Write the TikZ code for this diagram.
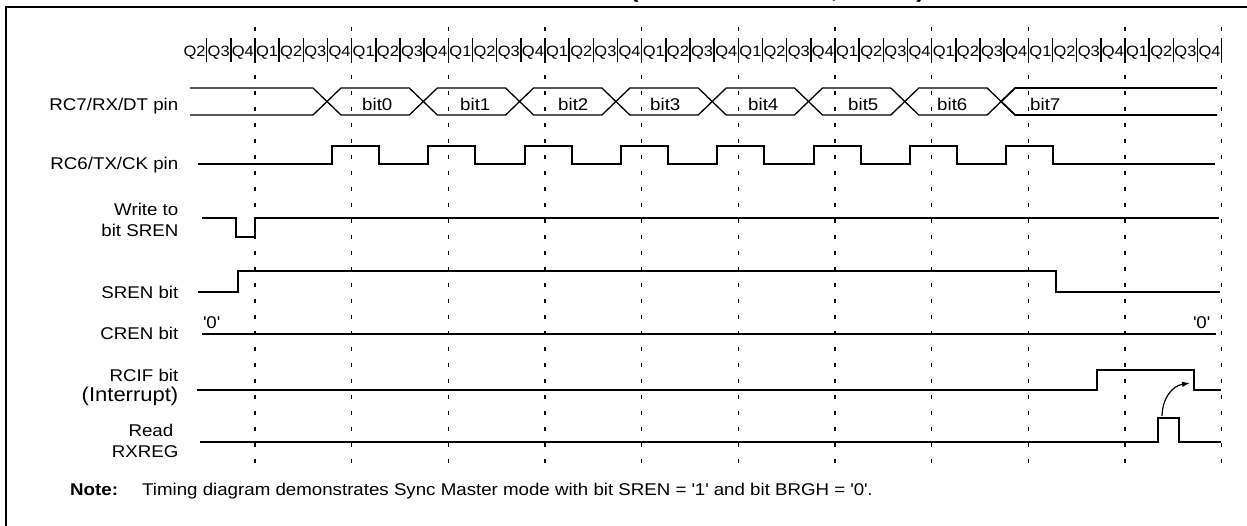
\documentclass[tikz,border=0pt]{standalone}
\usepackage{fontspec}
\setmainfont{Liberation Sans}[FakeStretch=1.1]
\usetikzlibrary{arrows.meta}
\newcommand{\sq}{\textquotesingle}

\begin{document}
\begin{tikzpicture}[>={Latex[length=8pt,width=5.5pt]}, x=1pt, y=-1pt,
    sig/.style={line width=2pt, line join=miter},
    bus/.style={line width=1.3pt},
    tick/.style={line width=1.3pt, dash pattern=on 4pt off 12pt},
    lbl/.style={inner sep=0pt, anchor=base east, font=\fontsize{17}{20}\selectfont},
    txt/.style={inner sep=0pt, anchor=base west, font=\fontsize{17}{20}\selectfont},
    qlbl/.style={inner sep=0pt, anchor=base, font=\fontsize{15}{17}\selectfont}]
    \useasboundingbox (0,0) rectangle (1247,525);

    % title, cut off by the page edge
    \node[txt, font=\bfseries\fontsize{23.3}{26}\selectfont] (title) at (630,-3) {(MASTER MODE, SREN)};

    % frame
    \draw[line width=2.5pt] (6,540) -- (6,7) -- (1260,7);

    % cycle lines
    \foreach \i in {0,...,10}
        \draw[tick] (255+96.67*\i,27) -- (255+96.67*\i,467);

    % Q states
    \foreach \k in {-3,...,39} {
        \pgfmathtruncatemacro\q{mod(\k+4,4)+1}
        \node[qlbl] (q\k) at (255+24.167*\k+12.08,56.5) {Q\q};
    }
    \foreach \k in {-2,...,40}
        \draw[line width=1.5pt] (255+24.167*\k,38) -- (255+24.167*\k,62);

    % RC7/RX/DT
    \draw[bus] (190,88) -- (313,88) -- (327,101.5) -- (313,115) -- (190,115);
    \foreach \k in {0,...,6} {
        \pgfmathsetmacro\c{327+96.3*\k}
        \pgfmathsetmacro\d{\c+96.3}
        \draw[bus] (\c,101.5) -- (\c+14,88) -- (\d-14,88) -- (\d,101.5) -- (\d-14,115) -- (\c+14,115) -- cycle;
    }
    \draw[line width=1.8pt] (1217,88) -- (1015.1,88) -- (1001.1,101.5) -- (1015.1,115) -- (1217,115);
    \foreach \x [count=\n from 0] in {362,460,558,650,748,848,937,1030}
        \node[txt] (bit\n) at (\x,110) {bit\n};

    % RC6/TX/CK
    \draw[sig] (198,164) \foreach \k in {0,...,7} {
        -- ({332+96.3*\k},164) -- ({332+96.3*\k},146) -- ({379+96.3*\k},146) -- ({379+96.3*\k},164)
    } -- (1215,164);

    % SREN write, SREN, CREN
    \draw[sig] (202,217.7) -- (236,217.7) -- (236,236.7) -- (255,236.7) -- (255,217.7) -- (1219,217.7);
    \draw[sig] (198,291.7) -- (238,291.7) -- (238,270.7) -- (1056,270.7) -- (1056,291.7) -- (1220,291.7);
    \draw[sig] (202,334.3) -- (1216,334.3);
    \node[txt] (cren0) at (203,328) {\sq0\sq};
    \node[txt] (cren1) at (1193,328) {\sq0\sq};

    % RCIF, RXREG read
    \draw[sig] (197,390) -- (1096.7,390) -- (1096.7,370) -- (1194,370) -- (1194,390) -- (1221,390);
    \draw[sig] (200,441.7) -- (1158,441.7) -- (1158,417.7) -- (1179,417.7) -- (1179,441.7) -- (1221,441.7);
    \coordinate (rdpulse) at (1162,416);
    \coordinate (rcifend) at (1190,383);
    \draw[->, line width=1.2pt] (rdpulse) .. controls (1162.5,398) and (1172,386) .. (rcifend);

    % signal names
    \node[lbl] (rx) at (178.5,110) {RC7/RX/DT pin};
    \node[lbl] (tx) at (178.5,169.3) {RC6/TX/CK pin};
    \node[lbl] (wr1) at (178.5,215) {Write to};
    \node[lbl] (wr2) at (178.5,236.7) {bit SREN};
    \node[lbl] (sren) at (178.5,298) {SREN bit};
    \node[lbl] (cren) at (178.5,339) {CREN bit};
    \node[lbl] (rcif1) at (178.5,381.7) {RCIF bit};
    \node[lbl, font=\fontsize{20}{24}\selectfont] (rcif2) at (178.5,401.7) {(Interrupt)};
    \node[lbl] (rd1) at (173.5,436) {Read};
    \node[lbl] (rd2) at (178.5,457.3) {RXREG};

    % note
    \node[txt, font=\bfseries\fontsize{17}{20}\selectfont] (note) at (70,495) {Note:};
    \node[txt] (notetext) at (142,495) {Timing diagram demonstrates Sync Master mode with bit SREN = \sq1\sq\ and bit BRGH = \sq0\sq.};
\end{tikzpicture}
\end{document}
